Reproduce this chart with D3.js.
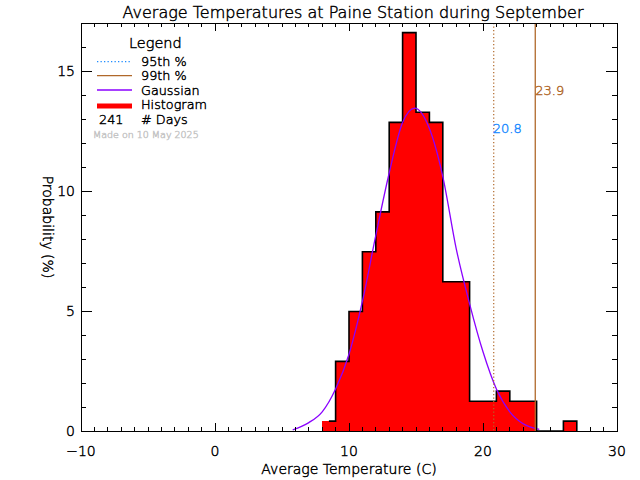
<!DOCTYPE html>
<html>
<head>
<meta charset="utf-8">
<script src="https://cdn.jsdelivr.net/npm/d3@7"></script>
<style>
  html, body { margin: 0; padding: 0; background: #fff; }
  svg { display: block; }
  text { font-family: "DejaVu Sans", "Liberation Sans", sans-serif; font-weight: 200; stroke-width: 0.45; }
</style>
</head>
<body>
<svg id="chart" width="640" height="480"></svg>
<script>
// ---- data ----
const binLefts   = [8, 9, 10, 11, 12, 13, 14, 15, 16, 17, 18, 19, 20, 21, 22, 23, 24, 25, 26];
const binPercent = [0.41, 2.90, 4.98, 7.47, 9.13, 12.86, 16.60, 13.28, 12.86, 6.22, 6.22, 1.24, 1.24, 1.66, 1.24, 1.24, 0, 0, 0.41];
const binWidth = 1;
// Gaussian curve, points
const gaussX = [5.8, 6.5, 7, 8, 9, 10, 11, 12, 13, 14, 14.9, 16, 17, 18, 19, 20, 21, 22, 23, 24.2];
const gaussY = [0.05, 0.2, 0.35, 0.8, 1.75, 3.2, 5.4, 8.15, 10.75, 12.85, 13.45, 12.6, 10.6, 7.6, 5.3, 3.3, 1.75, 0.8, 0.3, 0.07];
const pct95 = 20.8;
const pct99 = 23.9;
const numDays = 241;
const xTickLabels = ["−10", "0", "10", "20", "30"];
const xTickValues = [-10, 0, 10, 20, 30];
const yTickLabels = ["0", "5", "10", "15"];
const yTickValues = [0, 5, 10, 15];
const legendItems = ["95th %", "99th %", "Gaussian", "Histogram"];

// ---- layout ----
const L = 81, R = 617, T = 23, B = 431;
const svg = d3.select("#chart");
const x = d3.scaleLinear().domain([-10, 30]).range([L, R]);
const y = d3.scaleLinear().domain([0, 17]).range([B, T]);

const red = "#ff0000", brown = "#b0682a", purple = "#8a00ff", blue = "#1e8cff";

function txt(sel, color) {
  return sel.attr("fill", color).attr("stroke", color);
}

// histogram fill
const bins = binLefts.map((l, i) => ({ l, r: l + binWidth, v: binPercent[i] }));
svg.append("g").attr("shape-rendering", "crispEdges")
  .selectAll("rect").data(bins.filter(d => d.v > 0)).join("rect")
  .attr("x", d => x(d.l) - 0.3).attr("width", d => x(d.r) - x(d.l) + 0.6)
  .attr("y", d => y(d.v)).attr("height", d => y(0) - y(d.v))
  .attr("fill", red);

// histogram outline (step)
const stepPts = [[bins[0].l + binWidth / 2, bins[0].v]];
bins.forEach((d, i) => { if (i > 0) stepPts.push([d.l, d.v]); stepPts.push([d.r, d.v]); });
stepPts.push([bins[bins.length - 1].r, 0]);
svg.append("path")
  .attr("d", d3.line().x(d => x(d[0])).y(d => y(d[1]))(stepPts))
  .attr("fill", "none").attr("stroke", "#000").attr("stroke-width", 1.6);

// gaussian
svg.append("path")
  .attr("d", d3.line().curve(d3.curveMonotoneX).x(d => x(d[0])).y(d => y(d[1]))(gaussX.map((g, i) => [g, gaussY[i]])))
  .attr("fill", "none").attr("stroke", purple).attr("stroke-width", 1.3);

// percentile lines
svg.append("line").attr("x1", x(pct95)).attr("x2", x(pct95)).attr("y1", T).attr("y2", B)
  .attr("stroke", brown).attr("stroke-width", 1.2).attr("stroke-dasharray", "1.3,2.2");
svg.append("line").attr("x1", x(pct99)).attr("x2", x(pct99)).attr("y1", T).attr("y2", B)
  .attr("stroke", brown).attr("stroke-width", 1.3);
txt(svg.append("text").attr("x", x(pct95) - 1).attr("y", 133), blue)
  .attr("font-size", 13).text(pct95.toFixed(1));
txt(svg.append("text").attr("x", x(pct99)).attr("y", 95), brown)
  .attr("font-size", 13).text(pct99.toFixed(1));

// axes box and ticks
const ax = svg.append("g").attr("stroke", "#000").attr("stroke-width", 1).attr("shape-rendering", "crispEdges");
ax.append("rect").attr("x", L).attr("y", T).attr("width", R - L).attr("height", B - T).attr("fill", "none");
const xMinor = d3.range(-10, 31, 1);
xMinor.forEach(v => {
  const len = v % 10 === 0 ? 8 : 4;
  ax.append("line").attr("x1", x(v)).attr("x2", x(v)).attr("y1", B).attr("y2", B - len);
  ax.append("line").attr("x1", x(v)).attr("x2", x(v)).attr("y1", T).attr("y2", T + len);
});
const yMinor = d3.range(0, 18, 1);
yMinor.forEach(v => {
  const len = v % 5 === 0 ? 10.7 : 5.4;
  ax.append("line").attr("x1", L).attr("x2", L + len).attr("y1", y(v)).attr("y2", y(v));
  ax.append("line").attr("x1", R).attr("x2", R - len).attr("y1", y(v)).attr("y2", y(v));
});

// tick labels
txt(svg.append("g"), "#000").selectAll("text").data(xTickValues).join("text")
  .attr("x", d => x(d)).attr("y", 456).attr("text-anchor", "middle").attr("font-size", 14)
  .text((d, i) => xTickLabels[i]);
txt(svg.append("g"), "#000").selectAll("text").data(yTickValues).join("text")
  .attr("x", 75).attr("y", d => y(d) + 5).attr("text-anchor", "end").attr("font-size", 14)
  .text((d, i) => yTickLabels[i]);

// titles
txt(svg.append("text"), "#000").attr("x", 353).attr("y", 18).attr("text-anchor", "middle").attr("font-size", 16)
  .text("Average Temperatures at Paine Station during September");
txt(svg.append("text"), "#000").attr("x", 349).attr("y", 474).attr("text-anchor", "middle").attr("font-size", 14)
  .text("Average Temperature (C)");
txt(svg.append("text"), "#000").attr("transform", "translate(43,227) rotate(90)").attr("text-anchor", "middle").attr("font-size", 14)
  .text("Probability (%)");

// legend
txt(svg.append("text"), "#000").attr("x", 129).attr("y", 48).attr("font-size", 14.5).text("Legend");
const legY = [66, 80.3, 94.6, 109];
const lineY = [61.7, 75.7, 90, 106];
svg.append("line").attr("x1", 97).attr("x2", 132).attr("y1", lineY[0]).attr("y2", lineY[0])
  .attr("stroke", blue).attr("stroke-width", 1.2).attr("stroke-dasharray", "1.3,2.2");
svg.append("line").attr("x1", 97).attr("x2", 132).attr("y1", lineY[1]).attr("y2", lineY[1])
  .attr("stroke", brown).attr("stroke-width", 1.3);
svg.append("line").attr("x1", 97).attr("x2", 132).attr("y1", lineY[2]).attr("y2", lineY[2])
  .attr("stroke", purple).attr("stroke-width", 1.3);
svg.append("line").attr("x1", 97).attr("x2", 132).attr("y1", lineY[3]).attr("y2", lineY[3])
  .attr("stroke", red).attr("stroke-width", 5);
legendItems.forEach((t, i) => {
  txt(svg.append("text"), "#000").attr("x", 141).attr("y", legY[i]).attr("font-size", 12.8).text(t);
});
txt(svg.append("text"), "#000").attr("x", 99).attr("y", 124).attr("font-size", 12.8).text(String(numDays));
txt(svg.append("text"), "#000").attr("x", 141).attr("y", 124).attr("font-size", 12.8).text("# Days");
txt(svg.append("text"), "#c4c4c4").attr("x", 93).attr("y", 138).attr("font-size", 9.5).attr("stroke-width", 0.2)
  .text("Made on 10 May 2025");
</script>
</body>
</html>
